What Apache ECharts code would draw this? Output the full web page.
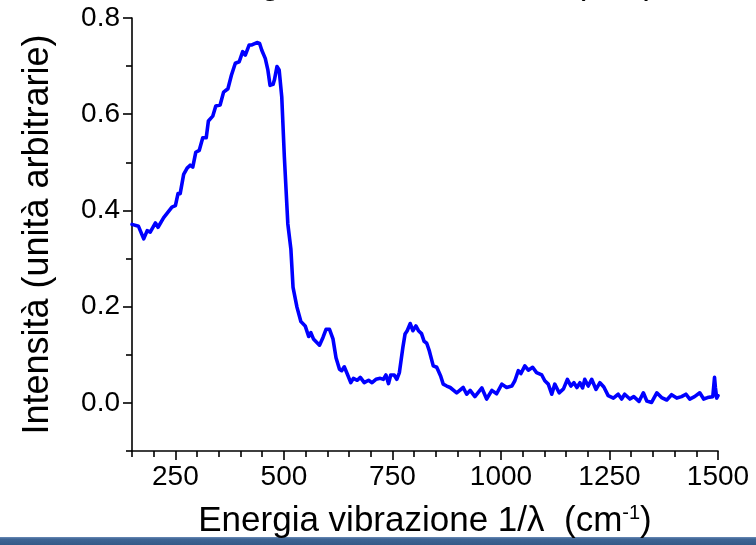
<!DOCTYPE html>
<html>
<head>
<meta charset="utf-8">
<script src="https://cdn.jsdelivr.net/npm/echarts@6/dist/echarts.min.js"></script>
<style>
html,body{margin:0;padding:0;background:#fff;}
#chart{width:756px;height:545px;}
</style>
</head>
<body>
<div id="chart"></div>
<script>
// Energy (cm^-1) and intensity (arbitrary units)
const energy = [150,165,177,185,192,204,210,223,242,250,256,261,269,277,284,290,297,305,313,321,326,336,343,353,361,371,379,388,397,405,411,420,426,438,444,449,457,463,468,475,478,484,489,495,501,509,516,521,530,539,549,557,562,568,582,590,597,605,613,620,628,633,639,646,654,660,669,676,685,695,703,712,722,729,735,741,746,754,760,766,774,779,784,791,797,804,810,817,823,829,835,844,852,861,867,875,883,898,913,921,929,940,956,967,979,990,1002,1013,1025,1032,1040,1046,1055,1063,1073,1082,1094,1101,1109,1117,1124,1134,1144,1153,1161,1168,1175,1182,1188,1193,1201,1209,1219,1228,1237,1247,1259,1270,1278,1285,1297,1306,1318,1328,1336,1347,1359,1370,1382,1393,1405,1416,1426,1435,1446,1458,1467,1476,1488,1492,1494,1497,1500];
const intensity = [0.371,0.367,0.341,0.358,0.355,0.374,0.365,0.385,0.407,0.410,0.435,0.435,0.475,0.488,0.494,0.490,0.521,0.525,0.551,0.551,0.586,0.596,0.617,0.619,0.646,0.653,0.681,0.706,0.709,0.730,0.723,0.744,0.744,0.749,0.747,0.733,0.716,0.692,0.660,0.662,0.671,0.699,0.692,0.636,0.511,0.372,0.320,0.240,0.199,0.169,0.160,0.138,0.146,0.133,0.120,0.136,0.153,0.153,0.133,0.094,0.070,0.067,0.075,0.060,0.042,0.051,0.047,0.053,0.042,0.047,0.042,0.049,0.051,0.049,0.058,0.040,0.058,0.058,0.049,0.063,0.115,0.143,0.150,0.165,0.150,0.160,0.150,0.144,0.128,0.124,0.108,0.077,0.074,0.056,0.039,0.035,0.032,0.021,0.032,0.018,0.026,0.013,0.031,0.008,0.026,0.019,0.039,0.032,0.035,0.046,0.067,0.061,0.077,0.068,0.074,0.063,0.058,0.046,0.039,0.018,0.039,0.021,0.029,0.049,0.035,0.042,0.032,0.042,0.031,0.049,0.035,0.049,0.028,0.042,0.033,0.015,0.010,0.018,0.008,0.018,0.008,0.013,0.003,0.021,0.004,0.001,0.021,0.011,0.006,0.017,0.010,0.013,0.018,0.008,0.013,0.021,0.008,0.011,0.013,0.053,0.032,0.010,0.015];

const xMajorTicks = [250,500,750,1000,1250,1500];
const xMinorTicks = [150,200,300,350,400,450,550,600,650,700,800,850,900,950,1050,1100,1150,1200,1300,1350,1400,1450];
const yMajorTicks = [0,0.2,0.4,0.6,0.8];
const yMinorTicks = [-0.1,0.1,0.3,0.5,0.7];

const titleText = 'Segnale Raman totale (u.a.)';
const xName = 'Energia vibrazione 1/λ  (cm{sup|-1})';
const yName = 'Intensità (unità arbitrarie)';

const data = energy.map((e,i)=>[e,intensity[i]]);
const FONT = 'Liberation Sans, Arial, sans-serif';
const axisCol = '#000';

const chart = echarts.init(document.getElementById('chart'), null, {renderer:'canvas'});
chart.setOption({
  animation:false,
  backgroundColor:'#fff',
  grid:{left:132,right:38,top:18,bottom:94,containLabel:false},
  graphic:[
    {type:'text', left:218, top:-33, style:{text:titleText, font:'35px '+FONT, fill:'#000'}},
    {type:'rect', left:0, top:537, shape:{width:756,height:8},
     style:{fill:new echarts.graphic.LinearGradient(0,0,0,1,[{offset:0,color:'#6a8cb8'},{offset:0.25,color:'#3f6595'},{offset:1,color:'#345a88'}])}}
  ],
  xAxis:[
    {type:'value', min:150, max:1500, position:'bottom',
     axisLine:{show:true,onZero:false,lineStyle:{color:axisCol,width:1.6}},
     axisTick:{show:true,customValues:xMajorTicks,length:9,inside:false,lineStyle:{color:axisCol,width:1.6}},
     axisLabel:{show:true,customValues:xMajorTicks,fontSize:28,fontFamily:FONT,color:'#000',margin:12,
       formatter:v=>String(v)},
     splitLine:{show:false},
     name:xName, nameLocation:'middle', nameGap:52,
     nameTextStyle:{fontSize:35,fontFamily:FONT,color:'#000',
       rich:{sup:{fontSize:20,fontFamily:FONT,color:'#000',verticalAlign:'top',padding:[0,0,16,0]}}}
    },
    {type:'value', min:150, max:1500, position:'bottom',
     axisLine:{show:false,onZero:false},
     axisTick:{show:true,customValues:xMinorTicks,length:6,lineStyle:{color:axisCol,width:1.6}},
     axisLabel:{show:false}, splitLine:{show:false}}
  ],
  yAxis:[
    {type:'value', min:-0.1, max:0.8, position:'left',
     axisLine:{show:true,onZero:false,lineStyle:{color:axisCol,width:1.6}},
     axisTick:{show:true,customValues:yMajorTicks,length:9,lineStyle:{color:axisCol,width:1.6}},
     axisLabel:{show:true,customValues:yMajorTicks,fontSize:28,fontFamily:FONT,color:'#000',margin:12,
       formatter:v=>v.toFixed(1)},
     splitLine:{show:false},
     name:yName, nameLocation:'middle', nameGap:76, nameRotate:90,
     nameTextStyle:{fontSize:36,fontFamily:FONT,color:'#000'}
    },
    {type:'value', min:-0.1, max:0.8, position:'left',
     axisLine:{show:false,onZero:false},
     axisTick:{show:true,customValues:yMinorTicks,length:6,lineStyle:{color:axisCol,width:1.6}},
     axisLabel:{show:false}, splitLine:{show:false}}
  ],
  series:[{
    type:'line', xAxisIndex:0, yAxisIndex:0, data:data,
    showSymbol:false, symbol:'none', smooth:false,
    lineStyle:{color:'#0000ff',width:3.6,join:'round',cap:'round'},
    itemStyle:{color:'#0000ff'}
  }]
});
</script>
</body>
</html>
